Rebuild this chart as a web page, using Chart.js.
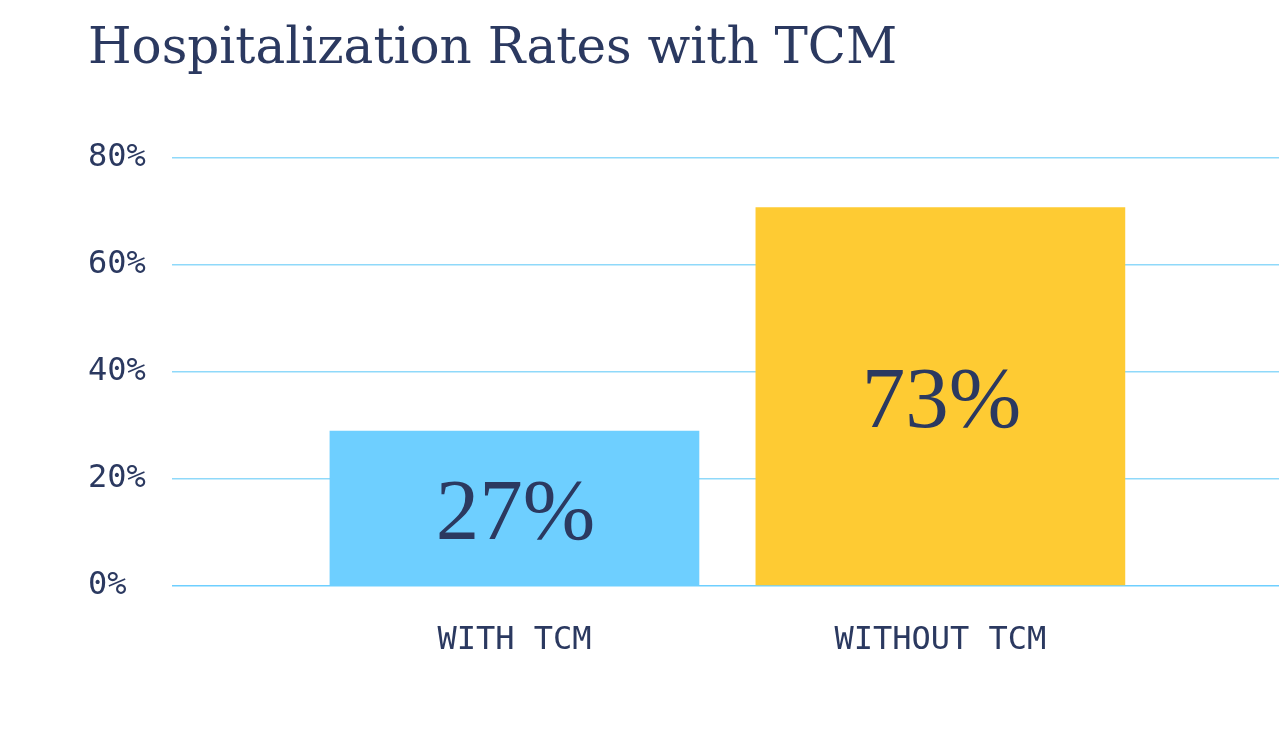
<!DOCTYPE html>
<html>
<head>
<meta charset="utf-8">
<script src="https://cdn.jsdelivr.net/npm/chart.js@4/dist/chart.umd.min.js"></script>
<style>
  html, body { margin: 0; padding: 0; background: #ffffff; }
  #wrap { width: 1281px; height: 753px; position: relative; }
</style>
</head>
<body>
<div id="wrap"><canvas id="c"></canvas></div>
<script>
const chartTitle = 'Hospitalization Rates with TCM';
const categories = ['WITH TCM', 'WITHOUT TCM'];
const categoryPositions = [1, 2];
const barValues = [29, 70.8];
const barLabels = ['27%', '73%'];
const barColors = ['#6ecfff', '#fecb33'];
const yTicks = [0, 20, 40, 60, 80];

const NAVY = '#2b3960';

const barLabelPlugin = {
  id: 'barLabels',
  afterDatasetsDraw(chart) {
    const ctx = chart.ctx;
    const meta = chart.getDatasetMeta(0);
    ctx.save();
    ctx.fillStyle = NAVY;
    ctx.font = '87px "Liberation Serif", serif';
    ctx.textAlign = 'center';
    ctx.textBaseline = 'alphabetic';
    meta.data.forEach((el, i) => {
      const cy = (el.y + el.base) / 2;
      ctx.fillText(barLabels[i], el.x + 1, cy + 31);
    });
    ctx.restore();
  }
};

new Chart(document.getElementById('c'), {
  type: 'bar',
  data: {
    datasets: [{
      data: categoryPositions.map((x, i) => ({ x: x, y: barValues[i] })),
      backgroundColor: barColors,
      borderWidth: 0,
      categoryPercentage: 1,
      barPercentage: 0.868
    }]
  },
  options: {
    responsive: true,
    maintainAspectRatio: false,
    animation: false,
    layout: { padding: { left: 88, right: 2, top: 0, bottom: 67 } },
    plugins: {
      legend: { display: false },
      tooltip: { enabled: false },
      title: {
        display: true,
        text: chartTitle,
        align: 'start',
        color: NAVY,
        font: { family: '"DejaVu Serif", serif', size: 50, weight: 'normal', lineHeight: 1.2 },
        padding: { top: 20, bottom: 78 }
      }
    },
    scales: {
      x: {
        type: 'linear',
        offset: false,
        bounds: 'data',
        min: 0.196,
        max: 2.795,
        grid: { display: false, drawTicks: false },
        border: { display: false },
        afterBuildTicks(scale) {
          scale.ticks = categoryPositions.map(v => ({ value: v }));
        },
        afterFit(scale) { scale.height = 100; },
        ticks: {
          padding: 35,
          color: NAVY,
          font: { family: '"DejaVu Sans Mono", monospace', size: 32 },
          callback: (v) => categories[categoryPositions.indexOf(v)] || ''
        }
      },
      y: {
        min: 0,
        max: 80,
        grid: {
          drawTicks: false,
          color: (c) => c.tick && c.tick.value === 0 ? '#6ecfff' : '#8fd9fa',
          lineWidth: 1.5
        },
        border: { display: false },
        afterBuildTicks(scale) {
          scale.ticks = yTicks.map(v => ({ value: v }));
        },
        afterFit(scale) { scale.width = 84; },
        ticks: {
          crossAlign: 'far',
          color: NAVY,
          font: { family: '"DejaVu Sans Mono", monospace', size: 32 },
          callback: (v) => v + '%'
        }
      }
    }
  },
  plugins: [barLabelPlugin]
});
</script>
</body>
</html>
